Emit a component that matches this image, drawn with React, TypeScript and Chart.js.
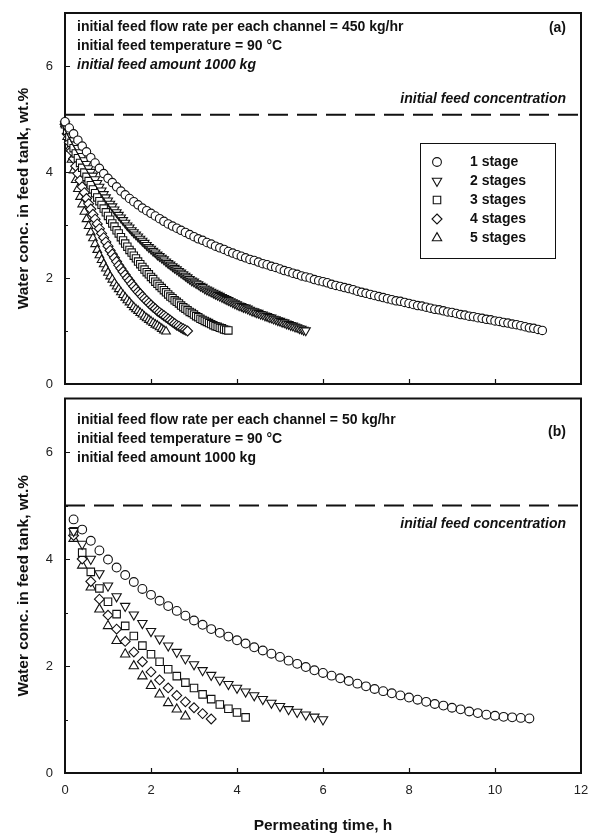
import React, { useEffect, useRef } from "react";
import { Chart, registerables } from "chart.js";

Chart.register(...registerables);

// ---------------- data ----------------
const X_TICKS = [0, 2, 4, 6, 8, 10, 12];
const Y_TICKS = [0, 2, 4, 6];
const X_MINOR: number[] = [];
const Y_MINOR = [1, 3, 5];
const X_MIN = 0;
const X_MAX = 12;
const Y_MIN = 0;
const Y_MAX = 7;

const SERIES_LABELS = ["1 stage", "2 stages", "3 stages", "4 stages", "5 stages"];

const A_NOTES = [
  "initial feed flow rate per each channel = 450 kg/hr",
  "initial feed temperature = 90 °C",
  "initial feed amount 1000 kg",
];
const B_NOTES = [
  "initial feed flow rate per each channel = 50 kg/hr",
  "initial feed temperature = 90 °C",
  "initial feed amount 1000 kg",
];
const A_TAG = "(a)";
const B_TAG = "(b)";
const REF_LABEL = "initial feed concentration";
const Y_TITLE = "Water conc. in feed tank, wt.%";
const X_TITLE = "Permeating time, h";

const A_INIT_CONC = 5.08;
const B_INIT_CONC = 5.0;

// panel (a): time of first point, time step (h) per series, water conc. (wt.%)
const A_T0 = 0;
const A_STEP = [0.1, 0.05, 0.05, 0.05, 0.05];
const A_VAL_1 = [
  4.95, 4.83, 4.72, 4.6, 4.49, 4.38, 4.27, 4.17, 4.07, 3.97, 3.88,
  3.8, 3.72, 3.64, 3.57, 3.5, 3.44, 3.38, 3.32, 3.27, 3.22,
  3.17, 3.12, 3.07, 3.02, 2.98, 2.94, 2.9, 2.86, 2.82, 2.78,
  2.74, 2.71, 2.67, 2.64, 2.6, 2.57, 2.54, 2.5, 2.47, 2.44,
  2.41, 2.38, 2.35, 2.33, 2.3, 2.27, 2.25, 2.22, 2.2, 2.17,
  2.14, 2.12, 2.09, 2.07, 2.04, 2.02, 2.0, 1.97, 1.95, 1.93,
  1.91, 1.88, 1.86, 1.84, 1.82, 1.8, 1.78, 1.75, 1.73, 1.71,
  1.69, 1.67, 1.65, 1.63, 1.61, 1.59, 1.57, 1.56, 1.54, 1.52,
  1.5, 1.48, 1.47, 1.45, 1.43, 1.41, 1.4, 1.38, 1.36, 1.35,
  1.33, 1.31, 1.3, 1.28, 1.27, 1.25, 1.24, 1.22, 1.21, 1.19,
  1.18, 1.16, 1.15, 1.13, 1.12, 1.1, 1.08, 1.06, 1.05, 1.03,
  1.01,
];
const A_VAL_2 = [
  4.9, 4.82, 4.75, 4.67, 4.6, 4.52, 4.45, 4.37, 4.3, 4.22,
  4.15, 4.07, 4.0, 3.93, 3.86, 3.79, 3.72, 3.65, 3.58, 3.52,
  3.46, 3.4, 3.35, 3.29, 3.24, 3.19, 3.14, 3.09, 3.04, 2.99,
  2.95, 2.9, 2.86, 2.82, 2.78, 2.74, 2.7, 2.66, 2.62, 2.58,
  2.55, 2.51, 2.48, 2.44, 2.41, 2.38, 2.35, 2.31, 2.28, 2.25,
  2.22, 2.19, 2.16, 2.13, 2.1, 2.07, 2.04, 2.01, 1.98, 1.95,
  1.93, 1.9, 1.88, 1.85, 1.83, 1.8, 1.78, 1.76, 1.74, 1.72,
  1.7, 1.68, 1.66, 1.64, 1.62, 1.6, 1.58, 1.56, 1.54, 1.52,
  1.5, 1.48, 1.47, 1.45, 1.44, 1.42, 1.4, 1.38, 1.37, 1.35,
  1.34, 1.32, 1.31, 1.29, 1.28, 1.26, 1.25, 1.23, 1.22, 1.2,
  1.19, 1.17, 1.16, 1.14, 1.13, 1.11, 1.1, 1.08, 1.07, 1.05,
  1.04, 1.02, 1.01,
];
const A_VAL_3 = [
  4.9, 4.78, 4.66, 4.55, 4.45, 4.35, 4.26, 4.17, 4.08, 3.99,
  3.91, 3.83, 3.75, 3.67, 3.6, 3.52, 3.45, 3.38, 3.31, 3.24,
  3.17, 3.1, 3.03, 2.97, 2.9, 2.84, 2.77, 2.71, 2.65, 2.59,
  2.53, 2.48, 2.42, 2.37, 2.31, 2.26, 2.21, 2.16, 2.11, 2.07,
  2.02, 1.98, 1.93, 1.89, 1.85, 1.81, 1.77, 1.73, 1.69, 1.65,
  1.62, 1.58, 1.55, 1.52, 1.48, 1.45, 1.42, 1.39, 1.36, 1.34,
  1.31, 1.28, 1.26, 1.23, 1.21, 1.19, 1.17, 1.15, 1.13, 1.11,
  1.09, 1.08, 1.06, 1.05, 1.03, 1.02, 1.01,
];
const A_VAL_4 = [
  4.9, 4.72, 4.56, 4.4, 4.25, 4.11, 3.97, 3.84, 3.72, 3.61,
  3.5, 3.4, 3.3, 3.2, 3.11, 3.02, 2.93, 2.84, 2.76, 2.68,
  2.6, 2.52, 2.45, 2.38, 2.31, 2.24, 2.18, 2.12, 2.06, 2.0,
  1.95, 1.89, 1.84, 1.79, 1.74, 1.7, 1.65, 1.61, 1.57, 1.53,
  1.49, 1.45, 1.42, 1.38, 1.35, 1.32, 1.29, 1.26, 1.23, 1.2,
  1.17, 1.14, 1.11, 1.09, 1.06, 1.04, 1.02, 1.0,
];
const A_VAL_5 = [
  4.9, 4.66, 4.44, 4.23, 4.03, 3.85, 3.68, 3.53, 3.39, 3.25,
  3.11, 2.98, 2.86, 2.75, 2.64, 2.53, 2.43, 2.34, 2.26, 2.18,
  2.1, 2.03, 1.97, 1.9, 1.84, 1.79, 1.73, 1.68, 1.63, 1.58,
  1.54, 1.49, 1.45, 1.41, 1.38, 1.34, 1.31, 1.27, 1.24, 1.21,
  1.18, 1.15, 1.12, 1.1, 1.07, 1.04, 1.01, 0.99,
];

// panel (b): first point at 0.2 h, step 0.2 h
const B_T0 = 0.2;
const B_STEP = 0.2;
const B_VAL_1 = [
  4.74, 4.55, 4.34, 4.16, 3.99, 3.84, 3.7, 3.57, 3.44, 3.33,
  3.22, 3.12, 3.03, 2.94, 2.85, 2.77, 2.69, 2.62, 2.55, 2.48,
  2.42, 2.35, 2.29, 2.23, 2.17, 2.1, 2.04, 1.98, 1.92, 1.87,
  1.82, 1.77, 1.72, 1.67, 1.62, 1.57, 1.53, 1.49, 1.45, 1.41,
  1.37, 1.33, 1.29, 1.26, 1.22, 1.19, 1.15, 1.12, 1.09, 1.07,
  1.05, 1.04, 1.03, 1.02,
];
const B_VAL_2 = [
  4.52, 4.28, 4.0, 3.73, 3.5, 3.3, 3.12, 2.96, 2.8, 2.65,
  2.51, 2.38, 2.26, 2.14, 2.03, 1.92, 1.83, 1.74, 1.66, 1.59,
  1.52, 1.45, 1.38, 1.31, 1.25, 1.19, 1.14, 1.09, 1.05, 1.0,
];
const B_VAL_3 = [
  4.52, 4.12, 3.76, 3.45, 3.2, 2.97, 2.75, 2.56, 2.38, 2.22,
  2.08, 1.94, 1.81, 1.69, 1.59, 1.47, 1.38, 1.28, 1.2, 1.13, 1.04,
];
const B_VAL_4 = [
  4.44, 4.0, 3.58, 3.25, 2.95, 2.69, 2.46, 2.26, 2.08, 1.89,
  1.74, 1.59, 1.45, 1.33, 1.22, 1.11, 1.01,
];
const B_VAL_5 = [
  4.38, 3.88, 3.47, 3.06, 2.75, 2.47, 2.22, 2.0, 1.81, 1.63,
  1.47, 1.31, 1.19, 1.06,
];

// ---------------- styles ----------------
const FONT = '"Liberation Sans", Arial, Helvetica, sans-serif';
const INK = "#111";
const MARKERS = [
  { style: "circle", rot: 0 },
  { style: "triangle", rot: 180 },
  { style: "rect", rot: 0 },
  { style: "rectRot", rot: 0 },
  { style: "triangle", rot: 0 },
];
const RADII_A = [4.2, 5.2, 5.2, 5.0, 5.0];
const RADII_B = [4.4, 5.4, 5.3, 4.9, 5.4];
const RADII_LEGEND = [4.4, 5.4, 5.3, 5.0, 5.4];

function makePoints(start: number, step: number, vals: number[]) {
  return vals.map((y, i) => ({ x: Math.round((start + i * step) * 1000) / 1000, y }));
}

function drawMarker(ctx: CanvasRenderingContext2D, style: string, rotDeg: number, x: number, y: number, r: number) {
  ctx.save();
  ctx.translate(x, y);
  ctx.rotate((rotDeg * Math.PI) / 180);
  ctx.beginPath();
  if (style === "circle") {
    ctx.arc(0, 0, r, 0, Math.PI * 2);
  } else if (style === "triangle") {
    for (let k = 0; k < 3; k++) {
      const a = (k * 2 * Math.PI) / 3;
      const px = Math.sin(a) * r;
      const py = -Math.cos(a) * r;
      if (k === 0) ctx.moveTo(px, py);
      else ctx.lineTo(px, py);
    }
    ctx.closePath();
  } else if (style === "rect") {
    const s = Math.SQRT1_2 * r;
    ctx.rect(-s, -s, 2 * s, 2 * s);
  } else {
    ctx.moveTo(0, -r);
    ctx.lineTo(r, 0);
    ctx.lineTo(0, r);
    ctx.lineTo(-r, 0);
    ctx.closePath();
  }
  ctx.fillStyle = "#fff";
  ctx.fill();
  ctx.lineWidth = 1.1;
  ctx.strokeStyle = INK;
  ctx.stroke();
  ctx.restore();
}

type PanelCfg = {
  notes: string[];
  noteFonts: string[];
  noteDy: number[];
  tag: string;
  tagDy: number;
  refValue: number;
  refDy: number;
  legend: boolean;
};

function decorPlugin(cfg: PanelCfg) {
  return {
    id: "panelDecor",
    beforeDatasetsDraw(chart: any) {
      const { ctx, chartArea, scales } = chart;
      const { left, right, top, bottom } = chartArea;
      ctx.save();
      ctx.strokeStyle = INK;
      ctx.lineWidth = 1.2;
      ctx.beginPath();
      for (const v of X_TICKS) {
        if (v === X_MIN || v === X_MAX) continue;
        const px = Math.round(scales.x.getPixelForValue(v)) + 0.5;
        ctx.moveTo(px, bottom);
        ctx.lineTo(px, bottom - 5);
      }
      for (const v of X_MINOR) {
        const px = Math.round(scales.x.getPixelForValue(v)) + 0.5;
        ctx.moveTo(px, bottom);
        ctx.lineTo(px, bottom - 3);
      }
      for (const v of Y_TICKS) {
        if (v === Y_MIN) continue;
        const py = Math.round(scales.y.getPixelForValue(v)) + 0.5;
        ctx.moveTo(left, py);
        ctx.lineTo(left + 5, py);
      }
      for (const v of Y_MINOR) {
        const py = Math.round(scales.y.getPixelForValue(v)) + 0.5;
        ctx.moveTo(left, py);
        ctx.lineTo(left + 3, py);
      }
      ctx.stroke();
      ctx.lineWidth = 2;
      ctx.strokeRect(left, top, right - left, bottom - top);
      ctx.restore();
    },
    afterDatasetsDraw(chart: any) {
      const { ctx, chartArea, scales } = chart;
      const { left, right, top } = chartArea;
      ctx.save();
      ctx.fillStyle = INK;
      ctx.textBaseline = "middle";
      ctx.textAlign = "left";
      cfg.notes.forEach((t, i) => {
        ctx.font = cfg.noteFonts[i];
        ctx.fillText(t, left + 12, top + cfg.noteDy[i]);
      });
      ctx.textAlign = "right";
      ctx.font = `bold 14px ${FONT}`;
      ctx.fillText(cfg.tag, right - 15, top + cfg.tagDy);
      ctx.font = `italic bold 14px ${FONT}`;
      const refY = scales.y.getPixelForValue(cfg.refValue);
      ctx.fillText(REF_LABEL, right - 15, refY + cfg.refDy);

      if (cfg.legend) {
        const bx = right - 161;
        const by = top + 130;
        const bw = 135;
        const bh = 115;
        ctx.fillStyle = "#fff";
        ctx.fillRect(bx, by, bw, bh);
        ctx.strokeStyle = INK;
        ctx.lineWidth = 1;
        ctx.strokeRect(bx + 0.5, by + 0.5, bw, bh);
        ctx.textAlign = "left";
        ctx.font = `bold 14px ${FONT}`;
        SERIES_LABELS.forEach((lab, i) => {
          const y = by + 19 + i * 19;
          drawMarker(ctx, MARKERS[i].style, MARKERS[i].rot, bx + 17, y, RADII_LEGEND[i]);
          ctx.fillStyle = INK;
          ctx.fillText(lab, bx + 50, y);
        });
      }
      ctx.restore();
    },
  };
}

function buildConfig(panel: "a" | "b") {
  const isA = panel === "a";
  const vals = isA
    ? [A_VAL_1, A_VAL_2, A_VAL_3, A_VAL_4, A_VAL_5]
    : [B_VAL_1, B_VAL_2, B_VAL_3, B_VAL_4, B_VAL_5];
  const radii = isA ? RADII_A : RADII_B;
  const datasets: any[] = vals.map((v, i) => ({
    type: "scatter",
    label: SERIES_LABELS[i],
    data: isA ? makePoints(A_T0, A_STEP[i], v) : makePoints(B_T0, B_STEP, v),
    pointStyle: MARKERS[i].style,
    pointRotation: MARKERS[i].rot,
    pointRadius: radii[i],
    pointBackgroundColor: "#fff",
    pointBorderColor: INK,
    pointBorderWidth: 1.1,
    showLine: false,
    clip: false,
  }));
  const conc = isA ? A_INIT_CONC : B_INIT_CONC;
  datasets.push({
    type: "line",
    label: REF_LABEL,
    data: [
      { x: X_MIN, y: conc },
      { x: X_MAX, y: conc },
    ],
    borderColor: INK,
    borderWidth: 2,
    borderDash: [20, 9],
    pointRadius: 0,
    fill: false,
  });

  const cfg: PanelCfg = isA
    ? {
        notes: A_NOTES,
        noteFonts: [`bold 14px ${FONT}`, `bold 14px ${FONT}`, `italic bold 14px ${FONT}`],
        noteDy: [14, 33, 52],
        tag: A_TAG,
        tagDy: 15,
        refValue: A_INIT_CONC,
        refDy: -16,
        legend: true,
      }
    : {
        notes: B_NOTES,
        noteFonts: [`bold 14px ${FONT}`, `bold 14px ${FONT}`, `bold 14px ${FONT}`],
        noteDy: [21.5, 40.5, 59.5],
        tag: B_TAG,
        tagDy: 34,
        refValue: B_INIT_CONC,
        refDy: 19,
        legend: false,
      };

  return {
    type: "scatter",
    data: { datasets },
    options: {
      responsive: false,
      animation: false,
      devicePixelRatio: 1,
      events: [],
      layout: {
        padding: isA
          ? { left: 10, right: 19, top: 13, bottom: 8 }
          : { left: 10, right: 19, top: 6.5, bottom: 0 },
      },
      plugins: { legend: { display: false }, tooltip: { enabled: false } },
      scales: {
        x: {
          type: "linear",
          min: X_MIN,
          max: X_MAX,
          afterBuildTicks: (s: any) => {
            s.ticks = X_TICKS.map((v) => ({ value: v }));
          },
          afterFit: (s: any) => {
            s.height = isA ? 0 : 63;
            s.paddingLeft = 0;
            s.paddingRight = 0;
          },
          grid: { display: false, drawTicks: false },
          border: { display: false },
          ticks: {
            display: !isA,
            padding: 10,
            maxRotation: 0,
            color: "#222",
            font: { family: FONT, size: 13 },
          },
          title: {
            display: !isA,
            text: X_TITLE,
            color: INK,
            font: { family: FONT, size: 15.5, weight: "bold" },
            padding: { top: 0, bottom: 1 },
          },
        },
        y: {
          type: "linear",
          min: Y_MIN,
          max: Y_MAX,
          afterBuildTicks: (s: any) => {
            s.ticks = Y_TICKS.map((v) => ({ value: v }));
          },
          afterFit: (s: any) => {
            s.width = 55;
            s.paddingTop = 0;
            s.paddingBottom = 0;
          },
          grid: { display: false, drawTicks: false },
          border: { display: false },
          ticks: {
            padding: 12,
            color: "#222",
            font: { family: FONT, size: 13 },
          },
          title: {
            display: true,
            text: Y_TITLE,
            color: INK,
            font: { family: FONT, size: 15.5, weight: "bold" },
            padding: { top: 4, bottom: 4 },
          },
        },
      },
    },
    plugins: [decorPlugin(cfg)],
  };
}

function Panel({ panel, height }: { panel: "a" | "b"; height: number }) {
  const ref = useRef<HTMLCanvasElement | null>(null);
  useEffect(() => {
    if (!ref.current) return;
    const chart = new Chart(ref.current, buildConfig(panel) as any);
    return () => chart.destroy();
  }, [panel]);
  return (
    <canvas
      ref={ref}
      width={600}
      height={height}
      style={{ display: "block", width: 600, height }}
    />
  );
}

export default function App() {
  return (
    <div
      style={{
        position: "absolute",
        left: 0,
        top: 0,
        width: 600,
        height: 836,
        background: "#fff",
        overflow: "hidden",
      }}
    >
      <Panel panel="a" height={392} />
      <Panel panel="b" height={444} />
    </div>
  );
}
